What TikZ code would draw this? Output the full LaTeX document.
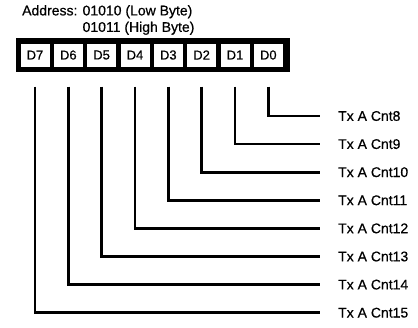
\documentclass[tikz,border=0pt]{standalone}
\usepackage{fontspec}
\setmainfont{Liberation Sans}[FakeBold=0.6]
\usepackage{tikz}
\usetikzlibrary{positioning}

\begin{document}
\begin{tikzpicture}[
  x=1pt, y=-1pt,
  every node/.style={font=\fontsize{14}{16.5}\selectfont},
  frame/.style={rectangle, fill=black, minimum width=274pt,
                minimum height=34pt, inner sep=0pt},
  cell/.style={rectangle, fill=white, minimum width=29pt,
               minimum height=23pt, inner sep=0pt,
               font=\fontsize{13}{15}\selectfont},
  cnt/.style={anchor=west, inner sep=2pt},
  wire/.style={line width=2.6pt, black}
]
  \useasboundingbox (0,0) rectangle (418,327);

  % Address text
  \node[anchor=west, align=left, inner sep=0pt] (addr) at (22,20)
    {Address: 01010 (Low Byte)\\\hphantom{Address: }01011 (High Byte)};

  % Register frame and bit cells
  \node[frame] (reg) at (152.5,54.5) {};
  \node[cell] (d7) at ( 35.0,55) {D7};
  \node[cell] (d6) at ( 68.3,55) {D6};
  \node[cell] (d5) at (101.6,55) {D5};
  \node[cell] (d4) at (135.0,55) {D4};
  \node[cell] (d3) at (168.3,55) {D3};
  \node[cell] (d2) at (201.6,55) {D2};
  \node[cell] (d1) at (235.0,55) {D1};
  \node[cell] (d0) at (268.3,55) {D0};

  % Output labels
  \node[cnt] (cnt8)  at (336,116.0) {Tx A Cnt8};
  \node[cnt] (cnt9)  at (336,144.1) {Tx A Cnt9};
  \node[cnt] (cnt10) at (336,172.2) {Tx A Cnt10};
  \node[cnt] (cnt11) at (336,200.3) {Tx A Cnt11};
  \node[cnt] (cnt12) at (336,228.4) {Tx A Cnt12};
  \node[cnt] (cnt13) at (336,256.5) {Tx A Cnt13};
  \node[cnt] (cnt14) at (336,284.6) {Tx A Cnt14};
  \node[cnt] (cnt15) at (336,312.7) {Tx A Cnt15};

  % Wires
  \draw[wire] ([yshift=-20pt]d0.south) |- ([xshift=-16pt]cnt8.west);
  \draw[wire] ([yshift=-20pt]d1.south) |- ([xshift=-16pt]cnt9.west);
  \draw[wire] ([yshift=-20pt]d2.south) |- ([xshift=-16pt]cnt10.west);
  \draw[wire] ([yshift=-20pt]d3.south) |- ([xshift=-16pt]cnt11.west);
  \draw[wire] ([yshift=-20pt]d4.south) |- ([xshift=-16pt]cnt12.west);
  \draw[wire] ([yshift=-20pt]d5.south) |- ([xshift=-16pt]cnt13.west);
  \draw[wire] ([yshift=-20pt]d6.south) |- ([xshift=-16pt]cnt14.west);
  \draw[wire] ([yshift=-20pt]d7.south) |- ([xshift=-16pt]cnt15.west);
\end{tikzpicture}
\end{document}
